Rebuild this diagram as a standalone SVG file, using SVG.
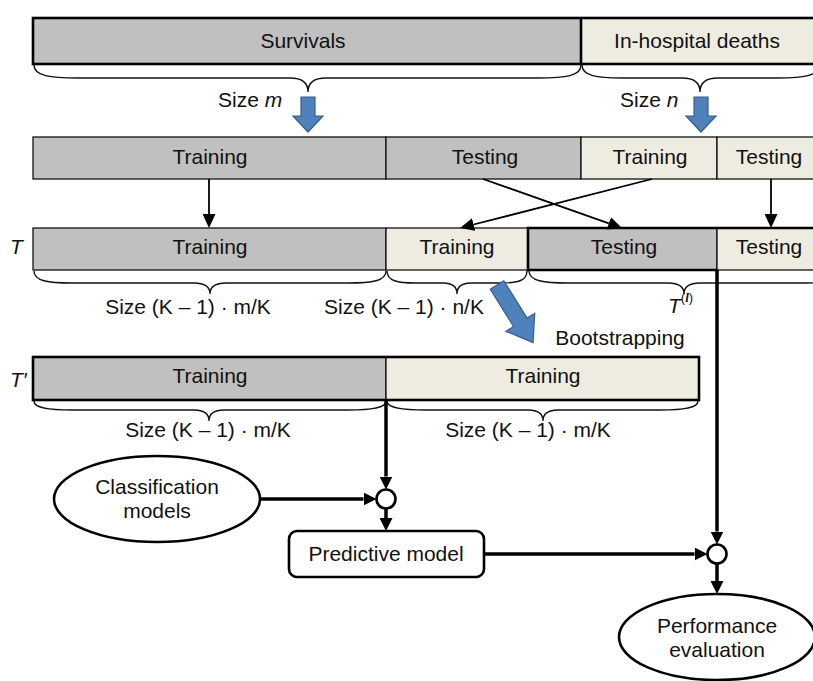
<svg xmlns="http://www.w3.org/2000/svg" xmlns:xlink="http://www.w3.org/1999/xlink" width="813" height="681" viewBox="0 0 813 681">
  <style>
    text { font-family: "Liberation Sans", Arial, sans-serif; font-size: 21px; fill: #111; }
    .mid { text-anchor: middle; }
    .it { font-style: italic; }
    .gray { fill: #c0c0c0; }
    .beige { fill: #eeece1; }
    .thin { stroke: #111; stroke-width: 1.3; }
    .thick { fill: none; stroke: #000; stroke-width: 2.6; }
    .brace { fill: none; stroke: #111; stroke-width: 1.4; }
    .blue { fill: #4f81bd; stroke: #385d8a; stroke-width: 1.2; }
    .conn { fill: none; stroke: #000; stroke-width: 1.8; }
    .conn-b { fill: none; stroke: #000; stroke-width: 3.5; }
    .shape { fill: #fff; stroke: #000; stroke-width: 2.6; }
  </style>
  <defs>
    <marker id="headThin" markerUnits="userSpaceOnUse" markerWidth="14" markerHeight="13" viewBox="0 0 14 13" refX="0" refY="6.5" orient="auto">
      <path d="M0,0 L14,6.5 L0,13 Z" fill="#000"/>
    </marker>
    <marker id="headBold" markerUnits="userSpaceOnUse" markerWidth="13" markerHeight="13" viewBox="0 0 13 13" refX="0" refY="6.5" orient="auto">
      <path d="M0,0 L13,6.5 L0,13 Z" fill="#000"/>
    </marker>
    <!-- downward block arrow, origin at top centre of the shaft -->
    <path id="blockDown" d="M-7,0 H7 V19 H15 L0,35 L-15,19 H-7 Z"/>
  </defs>

  <!-- Row 1: full data set -->
  <g id="survivals">
    <rect x="33" y="18" width="548" height="46" class="gray"/>
    <text x="303" y="48" class="mid">Survivals</text>
  </g>
  <g id="deaths">
    <rect x="581" y="18" width="240" height="46" class="beige"/>
    <text x="697" y="48" class="mid">In-hospital deaths</text>
  </g>
  <rect x="33" y="18" width="788" height="46" class="thick"/>
  <line x1="581" y1="18" x2="581" y2="64" class="thick"/>

  <g id="sizes-top">
    <path class="brace" d="M34,65 C34,76 50,78 78,78 L290,78 C302,78 308,82 308,92 C308,82 314,78 326,78 L538,78 C566,78 581,76 581,65"/>
    <path class="brace" d="M582,65 C582,76 597,78 622,78 L682,78 C694,78 700,82 700,92 C700,82 706,78 718,78 L778,78 C803,78 819,76 819,65"/>
    <text x="218" y="107">Size <tspan class="it">m</tspan></text>
    <text x="620" y="107">Size <tspan class="it">n</tspan></text>
    <use xlink:href="#blockDown" href="#blockDown" class="blue" transform="translate(308,97)"/>
    <use xlink:href="#blockDown" href="#blockDown" class="blue" transform="translate(701,97)"/>
  </g>

  <!-- Row 2: fold split -->
  <g id="split-surv-train">
    <rect x="33" y="137" width="353" height="42" class="gray thin"/>
    <text x="210" y="164" class="mid">Training</text>
  </g>
  <g id="split-surv-test">
    <rect x="386" y="137" width="195" height="42" class="gray thin"/>
    <text x="485" y="164" class="mid">Testing</text>
  </g>
  <g id="split-death-train">
    <rect x="581" y="137" width="136" height="42" class="beige thin"/>
    <text x="650" y="164" class="mid">Training</text>
  </g>
  <g id="split-death-test">
    <rect x="717" y="137" width="104" height="42" class="beige thin"/>
    <text x="769" y="164" class="mid">Testing</text>
  </g>

  <!-- Row 3: set T -->
  <text x="10" y="254" class="it">T</text>
  <g id="t-surv-train">
    <rect x="33" y="228" width="353" height="42" class="gray thin"/>
    <text x="210" y="254" class="mid">Training</text>
  </g>
  <g id="t-death-train">
    <rect x="386" y="228" width="142" height="42" class="beige thin"/>
    <text x="457" y="254" class="mid">Training</text>
  </g>
  <g id="t-surv-test">
    <rect x="528" y="228" width="189" height="42" class="gray thin"/>
    <text x="624" y="254" class="mid">Testing</text>
  </g>
  <g id="t-death-test">
    <rect x="717" y="228" width="104" height="42" class="beige thin"/>
    <text x="769" y="254" class="mid">Testing</text>
  </g>
  <path class="thick" d="M823,228 H528 V270 H717"/>

  <g id="sizes-t">
    <path class="brace" d="M34,271 C34,281 48,283 72,283 L194,283 C205,283 210,287 210,294 C210,287 215,283 226,283 L348,283 C372,283 386,281 386,271"/>
    <path class="brace" d="M387,271 C387,281 398,283 415,283 L443,283 C453,283 457,287 457,294 C457,287 461,283 471,283 L500,283 C517,283 527,281 527,271"/>
    <path class="brace" d="M529,271 C529,281 544,283 568,283 L668,283 C679,283 684,287 684,294 C684,287 689,283 700,283 L800,283 C824,283 839,281 839,271"/>
    <text x="188" y="314" class="mid">Size (K – 1) · m/K</text>
    <text x="404" y="314" class="mid">Size (K – 1) · n/K</text>
    <text x="668" y="313" class="it">T<tspan dy="-11" font-size="13" font-style="normal">(</tspan><tspan font-size="13" font-family="Liberation Serif, serif" font-weight="bold">l</tspan><tspan font-size="13" font-style="normal">)</tspan></text>
  </g>

  <g id="bootstrapping">
    <path class="blue" d="M-8,0 H8 V44 H17 L0,68 L-17,44 H-8 Z" transform="translate(497,285) rotate(-32)"/>
    <text x="620" y="345" class="mid">Bootstrapping</text>
  </g>

  <!-- Row 4: set T' -->
  <text x="10" y="387" class="it">T′</text>
  <g id="tp-surv-train">
    <rect x="33" y="357" width="353" height="43" class="gray thin"/>
    <text x="210" y="383" class="mid">Training</text>
  </g>
  <g id="tp-death-train">
    <rect x="386" y="357" width="313" height="43" class="beige thin"/>
    <text x="543" y="383" class="mid">Training</text>
  </g>
  <rect x="33" y="357" width="666" height="43" class="thick"/>

  <g id="sizes-tp">
    <path class="brace" d="M34,401 C34,408 48,410 72,410 L194,410 C204,410 209,414 209,421 C209,414 214,410 224,410 L348,410 C372,410 386,408 386,401"/>
    <path class="brace" d="M387,401 C387,408 402,410 426,410 L528,410 C538,410 543,414 543,421 C543,414 548,410 558,410 L660,410 C684,410 698,408 698,401"/>
    <text x="208" y="437" class="mid">Size (K – 1) · m/K</text>
    <text x="528" y="437" class="mid">Size (K – 1) · m/K</text>
  </g>

  <!-- Model building and evaluation -->
  <g id="classification-models">
    <ellipse cx="157" cy="499" rx="103" ry="43" class="shape"/>
    <text x="157" y="494" class="mid">Classification</text>
    <text x="157" y="518" class="mid">models</text>
  </g>
  <g id="join-train">
    <circle cx="386" cy="499" r="9.5" class="shape"/>
  </g>
  <g id="predictive-model">
    <rect x="289" y="531" width="195" height="46" rx="8" class="shape"/>
    <text x="386" y="561" class="mid">Predictive model</text>
  </g>
  <g id="join-test">
    <circle cx="717" cy="554" r="9.5" class="shape"/>
  </g>
  <g id="performance-evaluation">
    <ellipse cx="717" cy="637" rx="98" ry="43" class="shape"/>
    <text x="717" y="633" class="mid">Performance</text>
    <text x="717" y="657" class="mid">evaluation</text>
  </g>

  <g id="connectors">
    <line x1="209" y1="179" x2="209" y2="214" class="conn" marker-end="url(#headThin)"/>
    <line x1="483" y1="179" x2="608.8" y2="223.4" class="conn" marker-end="url(#headThin)"/>
    <line x1="652" y1="179" x2="473.6" y2="224.5" class="conn" marker-end="url(#headThin)"/>
    <line x1="771" y1="179" x2="771" y2="214" class="conn" marker-end="url(#headThin)"/>

    <line x1="386" y1="400" x2="386" y2="476.5" class="conn-b" marker-end="url(#headBold)"/>
    <line x1="260" y1="499" x2="363.5" y2="499" class="conn-b" marker-end="url(#headBold)"/>
    <line x1="386" y1="508.5" x2="386" y2="518" class="conn-b" marker-end="url(#headBold)"/>
    <line x1="484" y1="554" x2="694.5" y2="554" class="conn-b" marker-end="url(#headBold)"/>
    <line x1="717" y1="270" x2="717" y2="531.5" class="conn-b" marker-end="url(#headBold)"/>
    <line x1="717" y1="563.5" x2="717" y2="581" class="conn-b" marker-end="url(#headBold)"/>
  </g>
</svg>
